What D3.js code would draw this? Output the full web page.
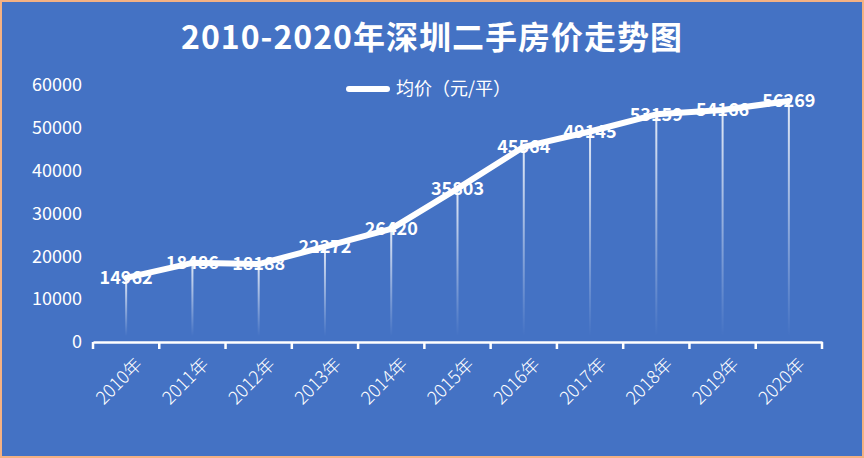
<!DOCTYPE html>
<html>
<head>
<meta charset="utf-8">
<script src="https://cdn.jsdelivr.net/npm/d3@7"></script>
<style>
  html, body { margin: 0; padding: 0; background: #fff; }
  #chart { width: 864px; height: 458px; }
  text { font-family: "Noto Sans CJK SC", "Noto Sans", sans-serif; }
</style>
</head>
<body>
<div id="chart"></div>
<script>
const years = ['2010年', '2011年', '2012年', '2013年', '2014年', '2015年', '2016年', '2017年', '2018年', '2019年', '2020年'];
const prices = [14962, 18486, 18188, 22272, 26420, 35803, 45564, 49145, 53159, 54166, 56269];
const yTicks = [0, 10000, 20000, 30000, 40000, 50000, 60000];
const seriesName = '均价（元/平）';
const chartTitle = '2010-2020年深圳二手房价走势图';

const width = 864, height = 458;
const margin = { left: 93, right: 42, top: 85, bottom: 116 };

const svg = d3.select('#chart').append('svg')
    .attr('width', width).attr('height', height);

svg.append('rect').attr('x', 1).attr('y', 1)
    .attr('width', width - 2).attr('height', height - 2)
    .attr('fill', '#4472c4').attr('stroke', '#f4b183').attr('stroke-width', 2);

const defs = svg.append('defs');
const grad = defs.append('linearGradient').attr('id', 'drop')
    .attr('x1', 0).attr('x2', 0).attr('y1', 0).attr('y2', 1);
grad.append('stop').attr('offset', '0%').attr('stop-color', '#fff').attr('stop-opacity', 0.85);
grad.append('stop').attr('offset', '100%').attr('stop-color', '#fff').attr('stop-opacity', 0);

const x = d3.scaleBand().domain(years).range([margin.left, width - margin.right]);
const y = d3.scaleLinear().domain([0, 60000]).range([height - margin.bottom, margin.top]);

// title
svg.append('text').attr('x', width / 2).attr('y', 49)
    .attr('text-anchor', 'middle').attr('fill', '#fff')
    .attr('font-size', 32).attr('font-weight', 'bold').attr('letter-spacing', 1)
    .text(chartTitle);

// legend
svg.append('line').attr('x1', 349).attr('x2', 387).attr('y1', 89).attr('y2', 89)
    .attr('stroke', '#fff').attr('stroke-width', 6).attr('stroke-linecap', 'round');
svg.append('text').attr('x', 396).attr('y', 95).attr('fill', '#fff')
    .attr('font-size', 18).text(seriesName);

// y axis labels
svg.append('g').selectAll('text').data(yTicks).join('text')
    .attr('x', 82).attr('y', d => y(d)).attr('dy', '0.35em')
    .attr('text-anchor', 'end').attr('fill', '#fff').attr('font-size', 18)
    .text(d => d);

// drop lines
svg.append('g').selectAll('rect').data(prices).join('rect')
    .attr('x', (d, i) => x(years[i]) + x.bandwidth() / 2 - 1)
    .attr('y', d => y(d))
    .attr('width', 2)
    .attr('height', d => y(0) - 6 - y(d))
    .attr('fill', 'url(#drop)');

// x axis
const xAxis = svg.append('g').attr('transform', `translate(0,${y(0)})`)
    .call(d3.axisBottom(x).tickSize(0).tickFormat(''));
xAxis.select('.domain').attr('stroke', '#fff').attr('stroke-width', 2.5);
xAxis.append('g').selectAll('line').data(d3.range(years.length + 1)).join('line')
    .attr('x1', i => margin.left + i * x.step()).attr('x2', i => margin.left + i * x.step())
    .attr('y1', 0).attr('y2', 7).attr('stroke', '#fff').attr('stroke-width', 2.5);
svg.append('g').selectAll('text').data(years).join('text')
    .attr('transform', d => `translate(${x(d) + x.bandwidth() / 2 + 13},${y(0) + 19}) rotate(-45)`)
    .attr('text-anchor', 'end').attr('dy', '0.35em')
    .attr('fill', '#fff').attr('font-size', 18).attr('font-weight', 300)
    .text(d => d);

// line
const line = d3.line().x((d, i) => x(years[i]) + x.bandwidth() / 2).y(d => y(d));
svg.append('path').datum(prices).attr('d', line)
    .attr('fill', 'none').attr('stroke', '#fff').attr('stroke-width', 6)
    .attr('stroke-linejoin', 'round').attr('stroke-linecap', 'round');

// data labels
svg.append('g').selectAll('text').data(prices).join('text')
    .attr('x', (d, i) => x(years[i]) + x.bandwidth() / 2)
    .attr('y', d => y(d)).attr('dy', '0.35em')
    .attr('text-anchor', 'middle').attr('fill', '#fff')
    .attr('font-size', 18).attr('font-weight', 'bold')
    .text(d => d);
</script>
</body>
</html>
